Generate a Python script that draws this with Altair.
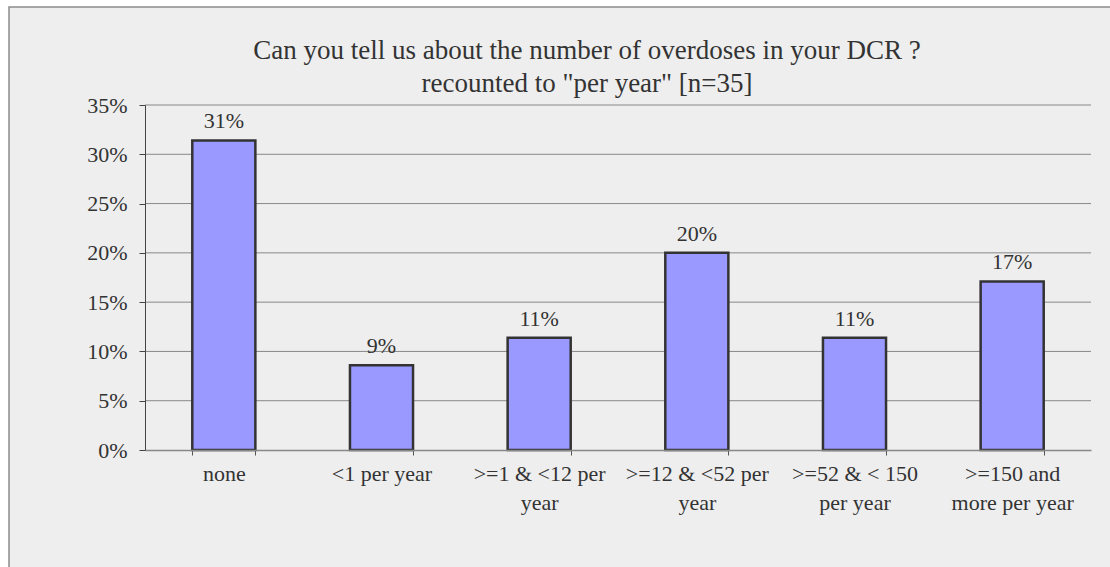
import altair as alt
import pandas as pd

CATEGORIES = ["none", "<1 per year", ">=1 & <12 per\nyear", ">=12 & <52 per\nyear",
              ">=52 & < 150\nper year", ">=150 and\nmore per year"]
SHARES = [0.314, 0.086, 0.114, 0.200, 0.114, 0.171]
Y_TICKS = [0.0, 0.05, 0.10, 0.15, 0.20, 0.25, 0.30, 0.35]
TITLE_LINES = ["Can you tell us about the number of overdoses in your DCR ?",
               'recounted to "per year" [n=35]']

FONT = "Liberation Serif"
TEXT_COLOR = "#333333"

df = pd.DataFrame({"cat": CATEGORIES, "share": SHARES})
grid_df = pd.DataFrame({"v": Y_TICKS[1:]})
one = pd.DataFrame({"a": [0]})

x_enc = alt.X("cat:N", sort=CATEGORIES, title=None,
              scale=alt.Scale(paddingInner=0.6, paddingOuter=0.3),
              axis=alt.Axis(labelAngle=0, labelExpr="split(datum.label, '\\n')",
                            labelFontSize=22, labelFont=FONT, labelColor=TEXT_COLOR,
                            labelLineHeight=29, labelPadding=8, labelBaseline="top",
                            tickBand="extent", tickSize=5, tickColor="#555555",
                            domainColor="#888888", domainWidth=1.5, grid=False,
                            zindex=1))
y_scale = alt.Scale(domain=[0, 0.35], nice=False)
y_enc = alt.Y("share:Q", scale=y_scale, title=None,
              axis=alt.Axis(values=Y_TICKS, format=".0%", labelFontSize=22,
                            labelFont=FONT, labelColor=TEXT_COLOR, labelPadding=12,
                            tickSize=6, tickColor="#444444", domainColor="#444444",
                            grid=False, zindex=1))

bg = alt.Chart(one).mark_rect(fill="#eeeeee", stroke="#8c8c8c", strokeWidth=1.5).encode(
    x=alt.value(-136), x2=alt.value(990), y=alt.value(-98), y2=alt.value(490))

grid = alt.Chart(grid_df).mark_rule(color="#888888", strokeWidth=1).encode(
    y=alt.Y("v:Q", scale=y_scale))

bars = alt.Chart(df).mark_bar(fill="#9999ff", stroke="#333333", strokeWidth=2.5).encode(
    x=x_enc, y=y_enc)

labels = alt.Chart(df).mark_text(font=FONT, fontSize=22, color=TEXT_COLOR,
                                 baseline="alphabetic", dy=-12).encode(
    x=alt.X("cat:N", sort=CATEGORIES),
    y=alt.Y("share:Q", scale=y_scale),
    text=alt.Text("share:Q", format=".0%"))

t1 = alt.Chart(one).mark_text(font=FONT, fontSize=27, color=TEXT_COLOR,
                              align="center", baseline="alphabetic").encode(
    x=alt.value(442), y=alt.value(-46), text=alt.value(TITLE_LINES[0]))
t2 = alt.Chart(one).mark_text(font=FONT, fontSize=27, color=TEXT_COLOR,
                              align="center", baseline="alphabetic").encode(
    x=alt.value(442), y=alt.value(-13), text=alt.value(TITLE_LINES[1]))

chart = alt.layer(bg, grid, bars, labels, t1, t2).properties(
    width=946, height=345,
    autosize=alt.AutoSizeParams(type="none"),
    padding={"left": 145, "top": 105, "right": 19, "bottom": 117},
    background="white",
).configure_view(stroke=None)

chart.save("out.html", embed_options={"renderer": "svg", "actions": False})
